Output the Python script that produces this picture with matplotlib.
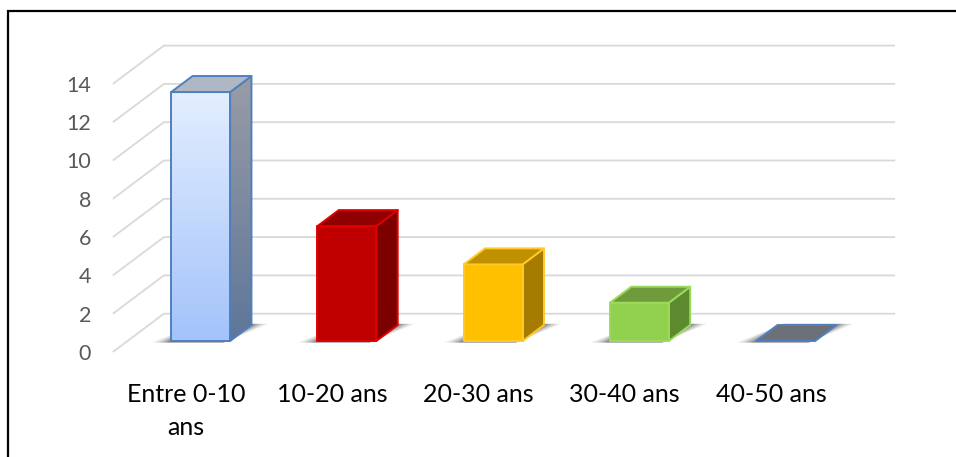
import matplotlib.pyplot as plt
import numpy as np
from matplotlib.patches import Polygon, Rectangle
from matplotlib.colors import LinearSegmentedColormap

plt.rcParams['font.family'] = ['Lato', 'DejaVu Sans']

categories = ['Entre 0-10\nans', '10-20 ans', '20-30 ans', '30-40 ans', '40-50 ans']
values = [13, 6, 4, 2, 0]
ticks = [0, 2, 4, 6, 8, 10, 12, 14]

# face colours: (front top, front bottom), (side top, side bottom), top, edge
front_cols = [('#e3eeff', '#a3c3fa'), ('#c00000', '#c00000'), ('#ffc000', '#ffc000'),
              ('#92d050', '#92d050'), ('#6b7079', '#6b7079')]
side_cols = [('#989ca6', '#5f7699'), ('#7c0000', '#7c0000'), ('#a67c00', '#a67c00'),
             ('#5e8a2f', '#5e8a2f'), ('#6b7079', '#6b7079')]
top_cols = ['#b0b7c4', '#900000', '#bf9000', '#6f9b3c', '#6b7079']
edge_cols = ['#4f7fbd', '#e00000', '#ffc926', '#9cdb5a', '#4f7fbd']

# oblique projection of the depth axis, in data units
DX, DY = 0.349, 2.0
D0, D1 = 0.287, 0.705        # bar front / back depth
W = 0.403                    # bar width
X_LO, X_HI = -0.5, 4.5       # floor extent

W_PX, H_PX = 956, 457
PX_CAT, PX_VAL = 146.25, 19.15
ORIG_X, ORIG_Y = 186, 352

fig = plt.figure(figsize=(W_PX / 100, H_PX / 100), dpi=100)
ax = fig.add_axes([0, 0, 1, 1])
ax.set_xlim(-ORIG_X / PX_CAT, (W_PX - ORIG_X) / PX_CAT)
ax.set_ylim(-(H_PX - ORIG_Y) / PX_VAL, ORIG_Y / PX_VAL)
ax.axis('off')


def proj(x, v, d):
    return (x + d * DX, v + d * DY)


def grad_face(pts, c_top, c_bot, edge, z):
    poly = Polygon(pts, closed=True, facecolor='none', edgecolor=edge,
                   linewidth=1.4, joinstyle='round', zorder=z + 0.5)
    ax.add_patch(poly)
    if c_top == c_bot:
        poly.set_facecolor(c_top)
        return
    xs = [p[0] for p in pts]
    ys = [p[1] for p in pts]
    cmap = LinearSegmentedColormap.from_list('g', [c_bot, c_top])
    img = ax.imshow(np.linspace(1, 0, 100).reshape(-1, 1), cmap=cmap, aspect='auto',
                    extent=(min(xs), max(xs), min(ys), max(ys)), zorder=z,
                    interpolation='bilinear')
    clip = Polygon(pts, closed=True, transform=ax.transData)
    img.set_clip_path(clip)


# side wall and back wall gridlines
for t in ticks:
    a = proj(X_LO, t, 0)
    b = proj(X_LO, t, 1)
    c = proj(X_HI, t, 1)
    ax.plot([a[0], b[0], c[0]], [a[1], b[1], c[1]], color='#d9d9d9', lw=1.3,
            solid_capstyle='butt', zorder=1)
    ax.text(X_LO - 0.15, t - 0.1, str(t), ha='right', va='center',
            fontsize=15.5, color='#595959')

for i, (cat, h) in enumerate(zip(categories, values)):
    l, r = i - W / 2, i + W / 2

    # soft floor shadow, thrown toward the left
    for k, a in enumerate([0.08, 0.11, 0.15, 0.2, 0.26]):
        grow = 0.12 - k * 0.025
        shp = [proj(l - grow, 0, D0 - 0.04), proj(r - 0.03, 0, D0 - 0.04),
               proj(r + grow * 0.9, 0, D1 + 0.03), proj(l + 0.03, 0, D1 + 0.03)]
        ax.add_patch(Polygon(shp, closed=True, facecolor='#3a3a3a', edgecolor='none',
                             alpha=a, zorder=2))

    front = [proj(l, 0, D0), proj(r, 0, D0), proj(r, h, D0), proj(l, h, D0)]
    side = [proj(r, 0, D0), proj(r, 0, D1), proj(r, h, D1), proj(r, h, D0)]
    top = [proj(l, h, D0), proj(r, h, D0), proj(r, h, D1), proj(l, h, D1)]

    if h > 0:
        grad_face(side, side_cols[i][0], side_cols[i][1], edge_cols[i], 3)
        grad_face(front, front_cols[i][0], front_cols[i][1], edge_cols[i], 4)
    ax.add_patch(Polygon(top, closed=True, facecolor=top_cols[i], edgecolor=edge_cols[i],
                         linewidth=1.4, joinstyle='round', zorder=5))

    ax.text(i, -1.6, cat, ha='center', va='top', fontsize=18, color='#000000',
            linespacing=1.55)

# outer frame (open to the right and bottom)
fig.patches.append(Rectangle((7.5 / W_PX, -0.1), 1.2, 1.1 - 10.5 / H_PX,
                             transform=fig.transFigure, fill=False,
                             edgecolor='#000000', linewidth=1.6))

fig.savefig('out.png', dpi=100, facecolor='white')
